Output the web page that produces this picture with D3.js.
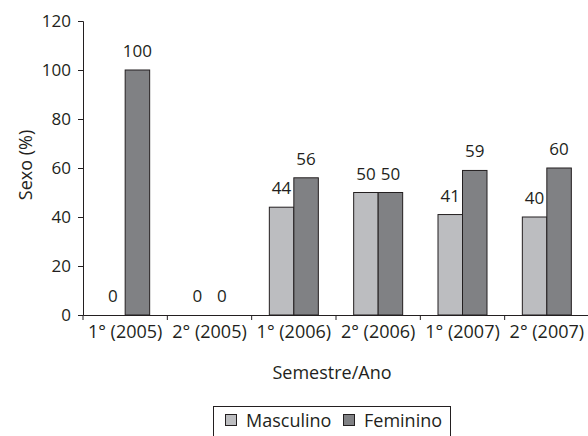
<!DOCTYPE html>
<html><head><meta charset="utf-8">
<script src="https://d3js.org/d3.v7.min.js"></script>
<style>body{margin:0;background:#fff}svg text{font-family:"Open Sans",sans-serif;fill:#231f20}</style>
</head><body><svg id="c" width="588" height="436"></svg>
<script>
const categories = ["1° (2005)","2° (2005)","1° (2006)","2° (2006)","1° (2007)","2° (2007)"];
const masculino = [0,0,44,50,41,40];
const feminino = [100,0,56,50,59,60];
const yTicks = [0,20,40,60,80,100,120];
const seriesNames = ["Masculino","Feminino"];
const colors = ["#bcbdc0","#808184"];

const svg = d3.select("#c");
const m = {l:83, r:0, t:21, b:121};
const x = d3.scaleBand().domain(categories).range([m.l, 589]).paddingInner(0).paddingOuter(0);
const y = d3.scaleLinear().domain([0,120]).range([315, 21]);
const bw = 24.5;
const fsNum = 17, fsTxt = 18;

const ya = svg.append("g").attr("transform",`translate(${m.l},0)`)
  .call(d3.axisLeft(y).tickValues(yTicks).tickSize(5).tickPadding(7));
ya.selectAll("text").style("font-size",fsNum+"px");
const xa = svg.append("g").attr("transform",`translate(0,315)`)
  .call(d3.axisBottom(x).tickSize(0).tickPadding(10));
xa.selectAll("text").style("font-size",fsTxt+"px").attr("dy","0.71em");
svg.append("g").selectAll("line").data(categories).join("line")
  .attr("x1",d=>x(d)).attr("x2",d=>x(d)).attr("y1",315).attr("y2",320)
  .attr("stroke","#231f20");
svg.selectAll(".domain,.tick line").attr("stroke","#231f20");

const data = categories.map((c,i)=>({c, vals:[masculino[i],feminino[i]]}));
const g = svg.append("g");
data.forEach(d=>{
  d.vals.forEach((v,k)=>{
    const cx = x(d.c)+x.bandwidth()/2;
    const x0 = k===0 ? cx-bw : cx;
    if (v>0) g.append("rect").attr("x",x0).attr("y",y(v)).attr("width",bw).attr("height",y(0)-y(v))
      .attr("fill",colors[k]).attr("stroke","#231f20").attr("stroke-width",1);
    g.append("text").attr("x",x0+bw/2).attr("y",y(v)-13).attr("text-anchor","middle")
      .style("font-size",fsNum+"px").text(v);
  });
});

svg.append("text").attr("x",332).attr("y",379).attr("text-anchor","middle").style("font-size",fsTxt+"px").text("Semestre/Ano");
svg.append("text").attr("transform","translate(32,165) rotate(-90)").attr("text-anchor","middle").style("font-size",fsTxt+"px").text("Sexo (%)");

const lg = svg.append("g");
lg.append("rect").attr("x",213.5).attr("y",406.5).attr("width",237).attr("height",40).attr("fill","#fff").attr("stroke","#231f20");
const lx = [225, 343];
seriesNames.forEach((s,k)=>{
  lg.append("rect").attr("x",lx[k]+0.5).attr("y",414.5).attr("width",11).attr("height",11).attr("fill",colors[k]).attr("stroke","#231f20");
  lg.append("text").attr("x",lx[k]+21).attr("y",427).style("font-size",fsTxt+"px").text(s);
});
</script></body></html>
